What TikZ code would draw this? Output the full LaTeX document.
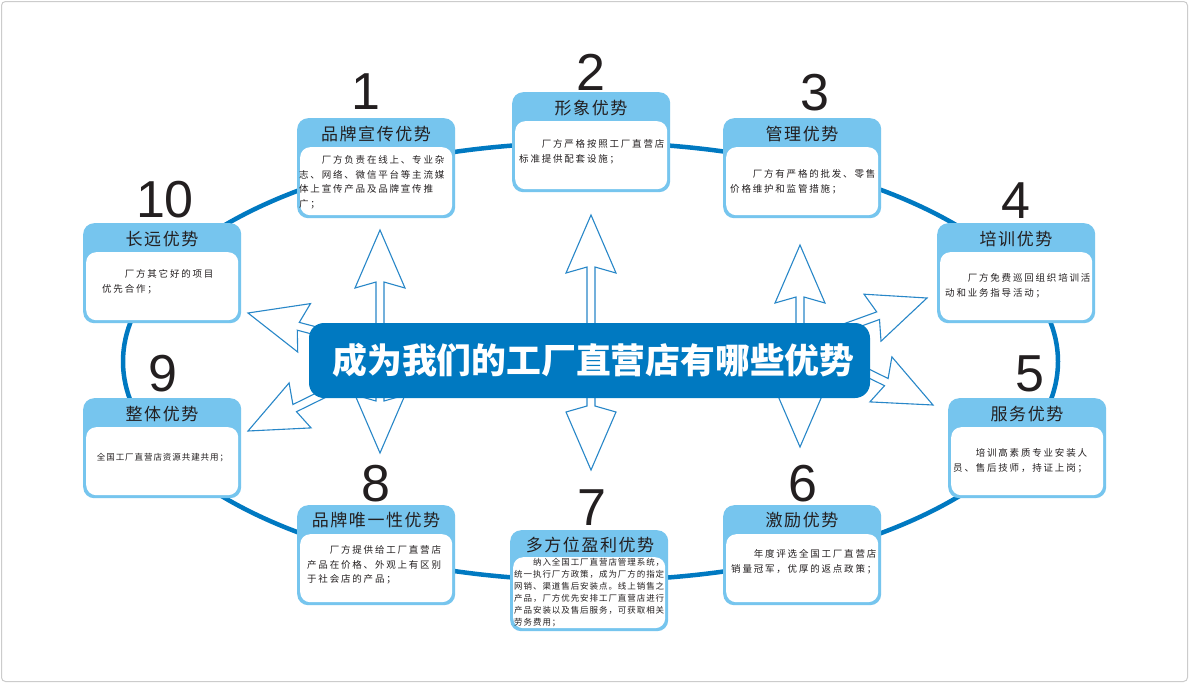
\documentclass[tikz,border=0pt]{standalone}
\usepackage{fontspec}
\setmainfont{Noto Sans CJK SC}
\newfontfamily\numfont{Liberation Sans}
\newfontfamily\titlefont[LetterSpace=9]{Noto Sans CJK SC}
\newfontfamily\bodyfont[LetterSpace=19]{Noto Sans CJK SC}
\newfontfamily\densefont[LetterSpace=11]{Noto Sans CJK SC}
\definecolor{ringblue}{RGB}{0,121,193}
\definecolor{headblue}{RGB}{118,197,238}
\definecolor{arrowblue}{RGB}{40,135,200}
\definecolor{textdark}{RGB}{35,31,32}

\begin{document}
\begin{tikzpicture}[x=1pt,y=-1pt,
  ring/.style={ringblue, line width=4.5pt},
  fatarrow/.style={draw=arrowblue, fill=white, line width=1.1pt, line join=miter},
  headbox/.style={fill=headblue, rounded corners=11pt, minimum width=158pt, minimum height=100pt, anchor=north west, inner sep=0pt},
  whitebox/.style={fill=white, rounded corners=10pt, minimum width=152pt, minimum height=68pt, anchor=north west, inner sep=0pt},
  title/.style={font=\titlefont\fontsize{17}{17}\selectfont, text=textdark, inner sep=0pt},
  body/.style={font=\bodyfont\fontsize{9.5}{14.5}\selectfont, text=textdark, align=left, anchor=north west, inner sep=0pt},
  dense/.style={font=\densefont\fontsize{8.5}{12}\selectfont, text=textdark, align=left, anchor=north west, inner sep=0pt},
  num/.style={font=\numfont\fontsize{52}{52}\selectfont, text=textdark, inner sep=0pt},
  banner/.style={fill=ringblue, rounded corners=15pt, minimum width=561pt, minimum height=75pt, text=white, inner sep=0pt, font=\bfseries\fontsize{34.8}{34.8}\selectfont}]
\useasboundingbox (0,0) rectangle (1189,683);
\fill[white] (0,0) rectangle (1189,683);
\draw[gray!40, line width=1pt, rounded corners=4pt] (1.5,1.5) rectangle (1187.5,681.5);

% ring behind the boxes
\draw[ring] (590.5,361.5) ellipse [x radius=467.5pt, y radius=219pt];

% hollow arrows out of the centre
\draw[fatarrow] (380,230) -- (405,288) -- (384,282) -- (384,401) -- (405,395) -- (380,453) -- (355,395) -- (376,401) -- (376,282) -- (355,288) -- cycle;
\draw[fatarrow] (591,215) -- (616,273) -- (595,267) -- (595,406) -- (616,412) -- (591,470) -- (566,412) -- (587,406) -- (587,267) -- (566,273) -- cycle;
\draw[fatarrow] (800,245) -- (825,303) -- (804,297) -- (804,395) -- (825,389) -- (800,447) -- (775,389) -- (796,395) -- (796,297) -- (775,303) -- cycle;
\draw[fatarrow] (248,313) -- (297.7,352) -- (297.3,330.2) -- (343.8,342.4) -- (345.8,334.6) -- (299.3,322.4) -- (310.5,303.6) -- cycle;
\draw[fatarrow] (248,431) -- (311.1,427.9) -- (296.5,411.7) -- (339.6,390.5) -- (336,383.3) -- (292.9,404.5) -- (289.1,382.9) -- cycle;
\draw[fatarrow] (927,298) -- (864,294.2) -- (876.7,311.9) -- (831.6,328.2) -- (834.4,335.8) -- (879.5,319.5) -- (881,341.2) -- cycle;
\draw[fatarrow] (933,405) -- (891.9,356.9) -- (888.1,378.5) -- (845,357.3) -- (841.4,364.5) -- (884.5,385.7) -- (869.9,401.9) -- cycle;

\node[banner] (core) at (589.5,360.5) {\hspace*{8pt}成为我们的工厂直营店有哪些优势};

% 1
\node[headbox] (h1) at (297,118) {};
\node[whitebox] (w1) at (300,147) {};
\node[title] (t1) at (376,134) {品牌宣传优势};
\node[body] (d1) at (299,155.5) {　　厂方负责在线上、专业杂\\志、网络、微信平台等主流媒\\体上宣传产品及品牌宣传推\\广；};
\node[num] (n1) at (366,92) {1};

% 2
\node[headbox] (h2) at (512,92) {};
\node[whitebox] (w2) at (515,121) {};
\node[title] (t2) at (591,108) {形象优势};
\node[body] (d2) at (519,139.5) {　　厂方严格按照工厂直营店\\标准提供配套设施；};
\node[num] (n2) at (591,72) {2};

% 3
\node[headbox] (h3) at (723,118) {};
\node[whitebox] (w3) at (726,147) {};
\node[title] (t3) at (802,134) {管理优势};
\node[body] (d3) at (730,169.5) {　　厂方有严格的批发、零售\\价格维护和监管措施；};
\node[num] (n3) at (815,93) {3};

% 4
\node[headbox] (h4) at (937,223) {};
\node[whitebox] (w4) at (940,252) {};
\node[title] (t4) at (1016,239) {培训优势};
\node[body] (d4) at (945,273.5) {　　厂方免费巡回组织培训活\\动和业务指导活动；};
\node[num] (n4) at (1016,201) {4};

% 5
\node[headbox] (h5) at (948,398) {};
\node[whitebox] (w5) at (951,427) {};
\node[title] (t5) at (1027,414) {服务优势};
\node[body] (d5) at (953,448.5) {　　培训高素质专业安装人\\员、售后技师，持证上岗；};
\node[num] (n5) at (1030,374) {5};

% 6
\node[headbox] (h6) at (723,505) {};
\node[whitebox] (w6) at (726,534) {};
\node[title] (t6) at (802,520) {激励优势};
\node[body] (d6) at (731,549.5) {　　年度评选全国工厂直营店\\销量冠军，优厚的返点政策；};
\node[num] (n6) at (803,484) {6};

% 7
\node[headbox, minimum height=101pt] (h7) at (510,530) {};
\node[whitebox, minimum height=71pt] (w7) at (513,557) {};
\node[title] (t7) at (590,545) {多方位盈利优势};
\node[dense] (d7) at (514,558) {　　纳入全国工厂直营店管理系统，\\统一执行厂方政策，成为厂方的指定\\网销、渠道售后安装点。线上销售之\\产品，厂方优先安排工厂直营店进行\\产品安装以及售后服务，可获取相关\\劳务费用；};
\node[num] (n7) at (592,508) {7};

% 8
\node[headbox] (h8) at (297,505) {};
\node[whitebox] (w8) at (300,534) {};
\node[title] (t8) at (376,520) {品牌唯一性优势};
\node[body] (d8) at (307,545.5) {　　厂方提供给工厂直营店\\产品在价格、外观上有区别\\于社会店的产品；};
\node[num] (n8) at (376,484) {8};

% 9
\node[headbox] (h9) at (83,398) {};
\node[whitebox] (w9) at (86,427) {};
\node[title] (t9) at (162,414) {整体优势};
\node[dense, anchor=center] (d9) at (162.5,458) {全国工厂直营店资源共建共用；};
\node[num] (n9) at (163,374) {9};

% 10
\node[headbox] (h10) at (83,223) {};
\node[whitebox] (w10) at (86,252) {};
\node[title] (t10) at (162,239) {长远优势};
\node[body] (d10) at (102,269.5) {　　厂方其它好的项目\\优先合作；};
\node[num] (n10) at (165,200) {10};

\end{tikzpicture}
\end{document}
